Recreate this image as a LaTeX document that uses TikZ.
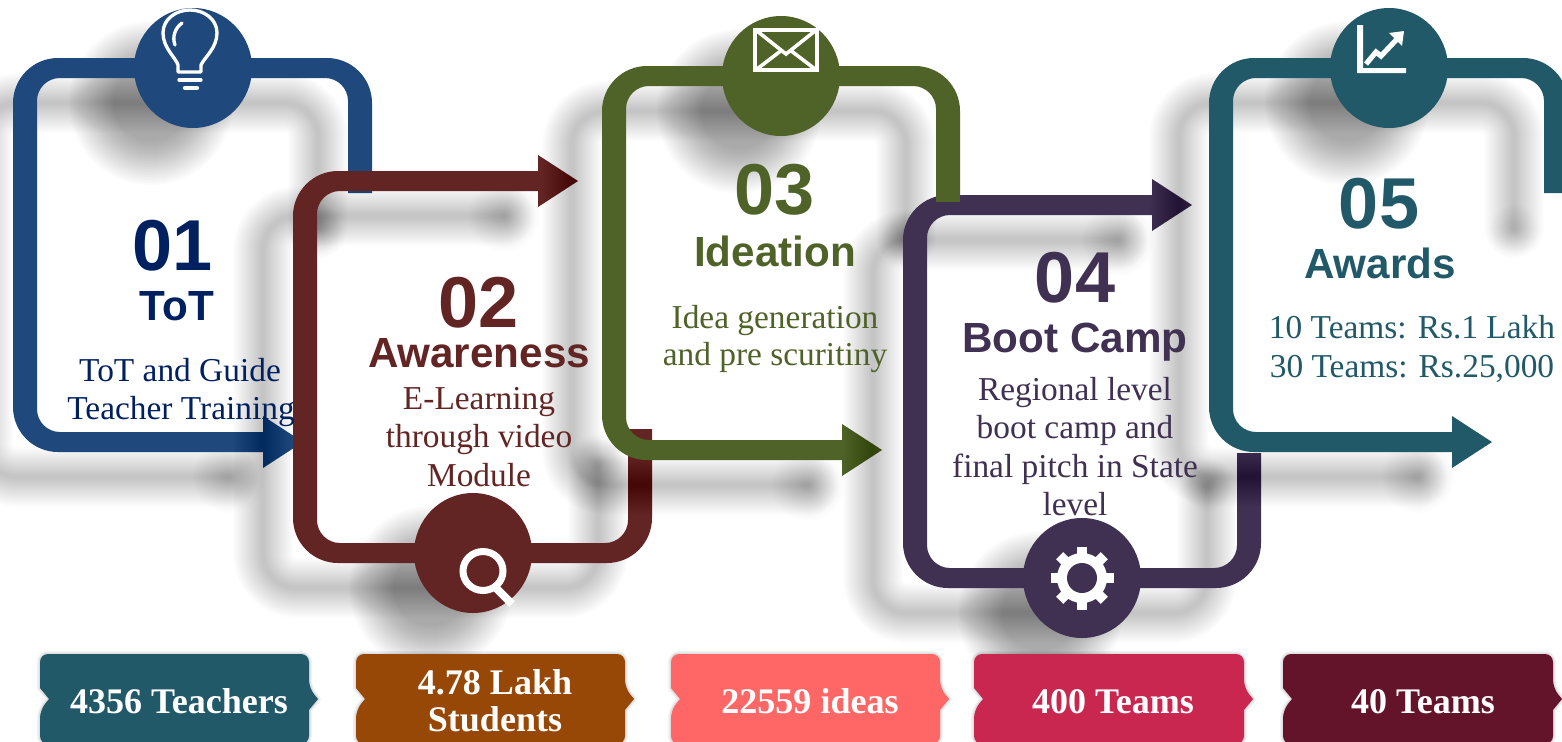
\documentclass[tikz,border=0pt]{standalone}
\usepackage{fontspec}
\setmainfont{Liberation Serif}
\newfontfamily\headfont{Liberation Sans}
\definecolor{cBlue}{HTML}{1F497D}
\definecolor{cMaroon}{HTML}{632523}
\definecolor{cGreen}{HTML}{4F6228}
\definecolor{cPurple}{HTML}{403152}
\definecolor{cTeal}{HTML}{215968}
\definecolor{cNavy}{HTML}{002060}
\definecolor{cBrown}{HTML}{974706}
\definecolor{cSalmon}{HTML}{FF6666}
\definecolor{cCrimson}{HTML}{C9274F}
\definecolor{cWine}{HTML}{64142A}
\tikzset{
  numtext/.style={font=\headfont\bfseries\fontsize{82}{82}\selectfont,anchor=base,inner sep=0pt},
  titletext/.style={font=\headfont\bfseries\fontsize{48}{48}\selectfont,anchor=base,inner sep=0pt},
  bodytext/.style={font=\fontsize{38}{38}\selectfont,anchor=base,inner sep=0pt},
  boxtext/.style={font=\bfseries\fontsize{41}{41}\selectfont,anchor=base,inner sep=0pt,text=white},
  iconline/.style={draw=white,line width=3.8pt,line cap=round,line join=round},
}
% shadow: blurred copy of the band (arguments L R Y1 Y2 S tip cx cy)
\newcommand\bandshadow[8]{%
  \begin{scope}[shift={(-42,35)}]
    \foreach \w in {60,58,...,4}{
      \draw[black,opacity=0.0082,line width=\w*1.138pt,rounded corners=1.36cm,line join=round,line cap=round]
        (#2,#5) -- (#2,#3) -- (#1,#3) -- (#1,#4) -- ({#6-32},#4);
    }
    \foreach \r in {4,6,...,36}{
      \fill[black,opacity=0.009] ({#6-32},#4) circle[radius=\r];
    }
    \foreach \r in {38,40,...,82}{
      \fill[black,opacity=0.0145] (#7,#8) circle[radius=\r];
    }
    \foreach \r in {4,6,...,24}{
      \fill[black,opacity=0.006] (#2,#5) circle[radius=\r];
    }
  \end{scope}}
% band body (arguments colour L R Y1 Y2 S tip s)
\newcommand\bandbody[8]{%
  \fill[#1] (#3+12,#6) [rounded corners=1.8cm] -- (#3+12,{#4-10*#8}) -- (#2-12,{#4-10*#8}) -- (#2-12,{#5+10*#8})
    [sharp corners] -- ({#7-40},{#5+10*#8}) -- ({#7-40},{#5+26*#8}) -- (#7,#5) -- ({#7-40},{#5-26*#8}) -- ({#7-40},{#5-10*#8})
    -- ({#2+12+23},{#5-10*#8}) [rounded corners=0.92cm] -- (#2+12,{#5-10*#8}) -- (#2+12,{#4+10*#8}) -- (#3-12,{#4+10*#8})
    [sharp corners] -- (#3-12,#6) -- cycle;}
% bottom tag (arguments name colour x1 x2)
\newcommand\tagbox[4]{%
  \def\tagpath{(#3+20,654) [rounded corners=0.32cm] -- (#4,654) -- (#4,688) [sharp corners] -- (#4+9,699) -- (#4,710)
     [rounded corners=0.32cm] -- (#4,744) -- (#3,744) -- (#3,710) [sharp corners] -- (#3+9,699) -- (#3,688)
     [rounded corners=0.32cm] -- (#3,654) -- cycle}
  \draw[black,opacity=0.05,line width=6*1.138pt,line join=round] \tagpath;
  \draw[black,opacity=0.08,line width=3*1.138pt,line join=round] \tagpath;
  \fill[#2] \tagpath;}
\begin{document}
\begin{tikzpicture}[x=0.04cm,y=-0.04cm]
\useasboundingbox (0,0) rectangle (1562,741);
\clip (0,0) rectangle (1562,741);
\fill[white] (0,0) rectangle (1562,741);

% band 1
\bandshadow{25}{360}{68}{442}{193}{303}{193}{68}
\bandbody{cBlue}{25}{360}{68}{442}{193}{303}{1}
\fill[cBlue] (193,68) ellipse[x radius=59,y radius=60];

% band 2
\bandshadow{305}{640}{553}{181}{429}{578}{473}{553}
\bandbody{cMaroon}{305}{640}{553}{181}{429}{578}{-1}
\fill[cMaroon] (473,553) ellipse[x radius=59,y radius=60];

% band 3
\bandshadow{614}{948}{76}{450}{202}{882}{781}{76}
\bandbody{cGreen}{614}{948}{76}{450}{202}{882}{1}
\fill[cGreen] (781,76) ellipse[x radius=59,y radius=60];

% band 4
\bandshadow{915}{1249}{578}{205}{453}{1192}{1082}{578}
\bandbody{cPurple}{915}{1249}{578}{205}{453}{1192}{-1}
\fill[cPurple] (1082,578) ellipse[x radius=59,y radius=60];
\fill[cGreen] (936,190) rectangle (960,202);

% band 5
\bandshadow{1221}{1556}{68}{442}{193}{1492}{1389}{68}
\bandbody{cTeal}{1221}{1556}{68}{442}{193}{1492}{1}
\fill[cTeal] (1389,68) ellipse[x radius=59,y radius=60];

% bulb icon
\draw[iconline] (178,72) -- (178,65) .. controls (176,58) and (163,48) .. (163,33)
   .. controls (163,19) and (176,10) .. (190,10) .. controls (204,10) and (217,19) .. (217,33)
   .. controls (217,48) and (204,58) .. (201,65) -- (201,72) -- cycle;
\draw[iconline] (182,23) .. controls (175,28) and (172,37) .. (175,45);
\draw[iconline] (179,80) -- (201,80);
\draw[iconline,line width=5pt] (185,88) -- (197,88);

% magnifier icon
\draw[white,line width=7*1.138pt] (483,571) ellipse[x radius=20,y radius=19.5];
\draw[white,line width=8*1.138pt] (495,587) -- (512,604);

% envelope icon
\draw[white,line width=4.2*1.138pt] (755,30) rectangle (817,70);
\draw[white,line width=3.6*1.138pt,line join=miter] (757,31) -- (786,54) -- (815,31);
\draw[white,line width=3.6*1.138pt] (757,69) -- (782,50);
\draw[white,line width=3.6*1.138pt] (815,69) -- (790,50);

% gear icon
\fill[white] (1082,578) circle[radius=25];
\foreach \a in {0,45,90,135}{
  \fill[white,rotate around={\a:(1082,578)}] (1077,546.5) rectangle (1087,609.5);
}
\fill[cPurple] (1082,578) ellipse[x radius=15,y radius=15];

% chart icon
\fill[white] (1357,25) -- (1363,25) -- (1363,68) -- (1406,68) -- (1406,73) -- (1357,73) -- cycle;
\draw[white,line width=5.2*1.138pt,line join=miter] (1366,64) -- (1376,52) -- (1381,56) -- (1398,38);
\fill[white] (1389,33) -- (1404,31) -- (1402,46) -- cycle;

% tags
\tagbox{t1}{cTeal}{40}{309}
\tagbox{t2}{cBrown}{356}{625}
\tagbox{t3}{cSalmon}{671}{940}
\tagbox{t4}{cCrimson}{974}{1244}
\tagbox{t5}{cWine}{1283}{1553}

% texts
\node[numtext,text=cNavy] (n1) at (173,270) {01};
\node[titletext,text=cNavy] (h1) at (177,320) {ToT};
\node[bodytext,text=cNavy] (b1a) at (180,381) {ToT and Guide};
\node[bodytext,text=cNavy] (b1b) at (181,419) {Teacher Training};

\node[numtext,text=cMaroon] (n2) at (479,327) {02};
\node[titletext,text=cMaroon] (h2) at (479,367) {Awareness};
\node[bodytext,text=cMaroon] (b2a) at (479,409) {E-Learning};
\node[bodytext,text=cMaroon] (b2b) at (479,447) {through video};
\node[bodytext,text=cMaroon] (b2c) at (479,486) {Module};

\node[numtext,text=cGreen] (n3) at (775,214) {03};
\node[titletext,text=cGreen] (h3) at (775,266) {Ideation};
\node[bodytext,text=cGreen] (b3a) at (775,328) {Idea generation};
\node[bodytext,text=cGreen] (b3b) at (775,365) {and pre scuritiny};

\node[numtext,text=cPurple] (n4) at (1075,302) {04};
\node[titletext,text=cPurple] (h4) at (1075,352) {Boot Camp};
\node[bodytext,text=cPurple] (b4a) at (1075,400) {Regional level};
\node[bodytext,text=cPurple] (b4b) at (1075,438) {boot camp and};
\node[bodytext,text=cPurple] (b4c) at (1075,477) {final pitch in State};
\node[bodytext,text=cPurple] (b4d) at (1075,515) {level};

\node[numtext,text=cTeal] (n5) at (1379,228) {05};
\node[titletext,text=cTeal] (h5) at (1380,278) {Awards};
\node[bodytext,text=cTeal] (b5a) at (1412,338) {10 Teams: Rs.1 Lakh};
\node[bodytext,text=cTeal] (b5b) at (1412,377) {30 Teams: Rs.25,000};

\node[boxtext] (l1) at (179,713) {4356 Teachers};
\node[boxtext] (l2a) at (495,694) {4.78 Lakh};
\node[boxtext] (l2b) at (495,731) {Students};
\node[boxtext] (l3) at (810,713) {22559 ideas};
\node[boxtext] (l4) at (1113,713) {400 Teams};
\node[boxtext] (l5) at (1423,713) {40 Teams};
\end{tikzpicture}
\end{document}
